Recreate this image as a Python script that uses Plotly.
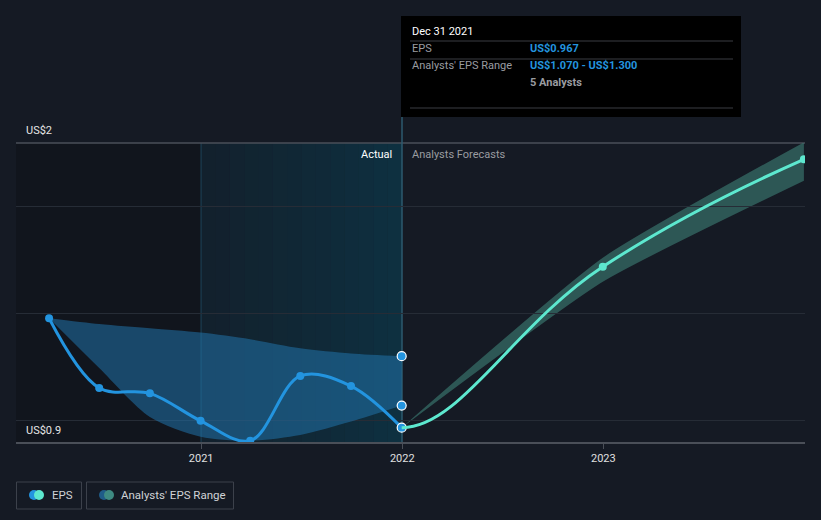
import plotly.graph_objects as go
import pandas as pd

# ---- data ----
eps_dates = ["2020-03-31", "2020-06-30", "2020-09-30", "2020-12-31",
             "2021-03-31", "2021-06-30", "2021-09-30", "2021-12-31"]
eps_values = [1.477, 1.152, 1.127, 0.999, 0.906, 1.208, 1.161, 0.967]
past_low = [1.477, 1.245, 1.017, 0.925, 0.906, 0.933, 0.995, 1.070]
past_high = [1.477, 1.450, 1.430, 1.410, 1.379, 1.337, 1.313, 1.300]

fc_dates = ["2021-12-31", "2022-12-31", "2023-12-31"]
fc_values = [0.967, 1.717, 2.218]
fc_low = [0.967, 1.647, 2.118]
fc_high = [0.967, 1.759, 2.297]

tick_vals = ["2021-01-01", "2022-01-01", "2023-01-01"]
tick_text = ["2021", "2022", "2023"]
grid_vals = [1.0, 1.5, 2.0]
x_range = ["2020-01-31", "2024-01-02"]
y_range = [0.9, 2.294]

W, H = 821, 520
L, R, T, B = 16, 805, 143, 442
BG = "#151a24"
BLUE = "#2394df"
TEAL = "#5de8cf"


def px(x):
    return (x - L) / (R - L)


def py(y):
    return (B - y) / (B - T)


# forecast axis starts where the forecast starts (same scale as main axis)
t0, t1 = pd.Timestamp(x_range[0]), pd.Timestamp(x_range[1])
ts = pd.Timestamp(fc_dates[0])
fc_dom0 = (ts - t0) / (t1 - t0)

fig = go.Figure()

# past analyst range band
fig.add_trace(go.Scatter(x=eps_dates, y=past_low, mode="lines",
                         line=dict(width=0, shape="spline", smoothing=0.8),
                         hoverinfo="skip", showlegend=False))
fig.add_trace(go.Scatter(x=eps_dates, y=past_high, mode="lines", fill="tonexty",
                         fillcolor="rgba(32,115,170,0.55)",
                         line=dict(width=0, shape="spline", smoothing=0.8),
                         hoverinfo="skip", showlegend=False))

# forecast band
fig.add_trace(go.Scatter(x=fc_dates, y=fc_low, mode="lines",
                         line=dict(width=0, shape="spline", smoothing=0.5),
                         hoverinfo="skip", showlegend=False))
fig.add_trace(go.Scatter(x=fc_dates, y=fc_high, mode="lines", fill="tonexty",
                         fillcolor="rgba(62,128,118,0.6)",
                         line=dict(width=0, shape="spline", smoothing=0.5),
                         hoverinfo="skip", showlegend=False))

# forecast line, continuing the EPS curve (clipped to the forecast area)
fig.add_trace(go.Scatter(x=[eps_dates[-2]] + fc_dates, y=[eps_values[-2]] + fc_values,
                         mode="lines", xaxis="x2", yaxis="y",
                         line=dict(color=TEAL, width=3, shape="spline", smoothing=1.3),
                         showlegend=False))
fig.add_trace(go.Scatter(x=fc_dates[1:], y=fc_values[1:], mode="markers",
                         marker=dict(size=8, color=TEAL), showlegend=False))

# EPS line
fig.add_trace(go.Scatter(x=eps_dates, y=eps_values, mode="lines+markers",
                         line=dict(color=BLUE, width=3, shape="spline", smoothing=1.0),
                         marker=dict(size=8, color=BLUE),
                         showlegend=False))

# highlighted points at Dec 31 2021
fig.add_trace(go.Scatter(x=[eps_dates[-1]] * 3,
                         y=[eps_values[-1], past_low[-1], past_high[-1]],
                         mode="markers",
                         marker=dict(size=9, color=BLUE, line=dict(color="white", width=1.2)),
                         showlegend=False, cliponaxis=False))

shapes = []
# darker left region
shapes.append(dict(type="rect", xref="paper", yref="paper", x0=0, x1=px(201), y0=0, y1=1,
                   fillcolor="rgba(0,0,0,0.18)", line_width=0, layer="below"))
# actual region gradient
n = 14
for i in range(n):
    x0 = 201 + (402 - 201) * i / n
    x1 = 201 + (402 - 201) * (i + 1) / n
    a = 0.10 + 0.22 * i / (n - 1)
    shapes.append(dict(type="rect", xref="paper", yref="paper", x0=px(x0), x1=px(x1),
                       y0=0, y1=1, fillcolor=f"rgba(0,95,125,{a:.3f})",
                       line_width=0, layer="below"))
# vertical divider at 2021
shapes.append(dict(type="line", xref="paper", yref="paper", x0=px(201), x1=px(201),
                   y0=0, y1=1, line=dict(color="rgba(40,110,140,0.5)", width=1), layer="below"))
# top border
shapes.append(dict(type="line", xref="paper", yref="paper", x0=0, x1=1, y0=1, y1=1,
                   line=dict(color="#4a4f58", width=1.5), layer="below"))
# vertical line at today
shapes.append(dict(type="line", xref="paper", yref="paper", x0=px(402), x1=px(402),
                   y0=0, y1=py(20), line=dict(color="#2d5a6e", width=1.5), layer="below"))
# tooltip box
shapes.append(dict(type="rect", xref="paper", yref="paper", x0=px(401), x1=px(741),
                   y0=py(117), y1=py(16), fillcolor="#000000", line=dict(color="#000000", width=0)))
for yy in (41, 59, 108):
    shapes.append(dict(type="line", xref="paper", yref="paper", x0=px(410), x1=px(733),
                       y0=py(yy), y1=py(yy), line=dict(color="#3a3d42", width=1)))
# legend boxes
shapes.append(dict(type="rect", xref="paper", yref="paper", x0=px(16.5), x1=px(81.5),
                   y0=py(509), y1=py(482), line=dict(color="#3c414b", width=1)))
shapes.append(dict(type="rect", xref="paper", yref="paper", x0=px(86.5), x1=px(233.5),
                   y0=py(509), y1=py(482), line=dict(color="#3c414b", width=1)))
# legend dots
for cx, col in ((34, BLUE), (39, TEAL), (104, "#1f5c88"), (109, "#3e8a82")):
    shapes.append(dict(type="circle", xref="paper", yref="paper",
                       x0=px(cx - 5), x1=px(cx + 5), y0=py(500), y1=py(490),
                       fillcolor=col, line_width=0))

ann = []


def text(x, y, s, color, size=11, anchor="left", bold=False):
    if bold:
        s = f"<b>{s}</b>"
    ann.append(dict(xref="paper", yref="paper", x=px(x), y=py(y), text=s, showarrow=False,
                    xanchor=anchor, yanchor="middle",
                    font=dict(color=color, size=size, family="Roboto")))


text(24, 130, "US$2", "#e6e6e6", 11)
text(24, 430, "US$0.9", "#e6e6e6", 11)
text(394, 154, "Actual", "#ffffff", 11, anchor="right")
text(410, 154, "Analysts Forecasts", "#9a9ca0", 11)
text(410, 31, "Dec 31 2021", "#ffffff", 11)
text(410, 48, "EPS", "#9a9ca0", 11)
text(528, 48, "US$0.967", BLUE, 11, bold=True)
text(410, 66, "Analysts' EPS Range", "#9a9ca0", 11)
text(528, 66, "US$1.070 - US$1.300", BLUE, 11, bold=True)
text(528, 83, "5 Analysts", "#9a9ca0", 11, bold=True)
text(50, 495, "EPS", "#d0d2d6", 11.5)
text(119, 495, "Analysts' EPS Range", "#d0d2d6", 11.5)

fig.update_layout(
    width=W, height=H,
    margin=dict(l=L, r=W - R, t=T, b=H - B),
    paper_bgcolor=BG, plot_bgcolor="rgba(0,0,0,0)",
    shapes=shapes, annotations=ann,
    showlegend=False,
    font=dict(family="Roboto", color="#d0d2d6"),
    xaxis=dict(type="date", range=x_range, domain=[0, 1],
               tickvals=tick_vals, ticktext=tick_text,
               showgrid=False, showline=True, linecolor="#4a4f58", linewidth=1.5,
               ticks="outside", ticklen=5, tickcolor="#4a4f58",
               tickfont=dict(color="#e0e0e0", size=11, family="Roboto"),
               zeroline=False, fixedrange=True),
    xaxis2=dict(type="date", range=[fc_dates[0], x_range[1]], domain=[fc_dom0, 1],
                anchor="y", visible=False, showgrid=False, zeroline=False, fixedrange=True),
    yaxis=dict(range=y_range, tickvals=grid_vals, showticklabels=False,
               showgrid=True, gridcolor="#262c36", gridwidth=1,
               zeroline=False, showline=False, fixedrange=True),
)

fig.write_html("out.html")
